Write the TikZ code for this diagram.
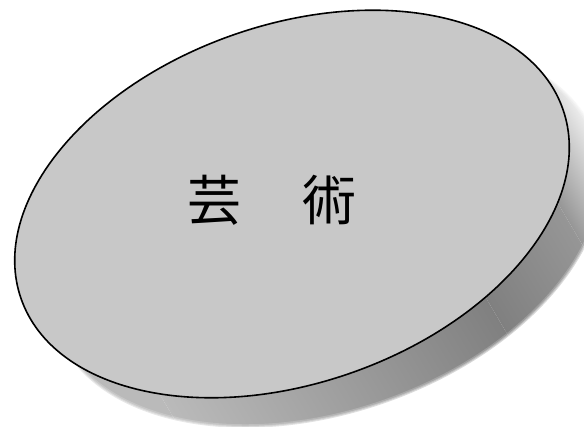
\documentclass[tikz,border=0pt]{standalone}
\usepackage{fontspec}
\newfontfamily\jpfont{Noto Sans CJK JP}
\usetikzlibrary{calc}

\definecolor{discgray}{RGB}{200,200,200}
\definecolor{rimmid}{RGB}{150,150,150}
\definecolor{rimdark}{RGB}{128,128,128}
\definecolor{rimlight}{RGB}{186,186,186}

\begin{document}
\begin{tikzpicture}[x=1pt,y=1pt]

  \tikzstyle{every node}=[font=\jpfont\fontsize{54}{54}\selectfont]
  \tikzstyle{disc face}=[fill=discgray, draw=black, line width=1.6pt]
  \tikzstyle{disc shape}=[rotate=19.3]
  \useasboundingbox (0,0) rectangle (584,427);

  \coordinate (centre) at (292,223);
  \coordinate (rim) at ($(centre)+(34,-30)$);

  %%% side of the disc
  \begin{scope}
    \clip [shift={(rim)}, disc shape] (0,0) ellipse (287 and 179);
    \begin{scope}[transform canvas={shift={(584,337)}, rotate=210.5}]
      \fill [white] (-300,-500) rectangle (0,500);
      \shade [left color=white, right color=rimmid] (0,-500) rectangle (80,500);
      \shade [left color=rimmid, right color=rimdark] (80,-500) rectangle (190,500);
      \shade [left color=rimdark, right color=rimlight] (190,-500) rectangle (520,500);
      \fill [rimlight] (520,-500) rectangle (900,500);
    \end{scope}
  \end{scope}
  \foreach \w/\o in {7/0.2, 4/0.3, 2/0.4}
  {
    \draw [white, opacity=\o, line width=\w, shift={(rim)}, disc shape] (0,0) ellipse (287 and 179);
  }

  %%% top face
  \draw [disc face, shift={(centre)}, disc shape] (0,0) ellipse (287 and 179);
  \node (title) at ($(centre)+(-20,4)$) {芸\kern8pt　術};

\end{tikzpicture}
\end{document}
